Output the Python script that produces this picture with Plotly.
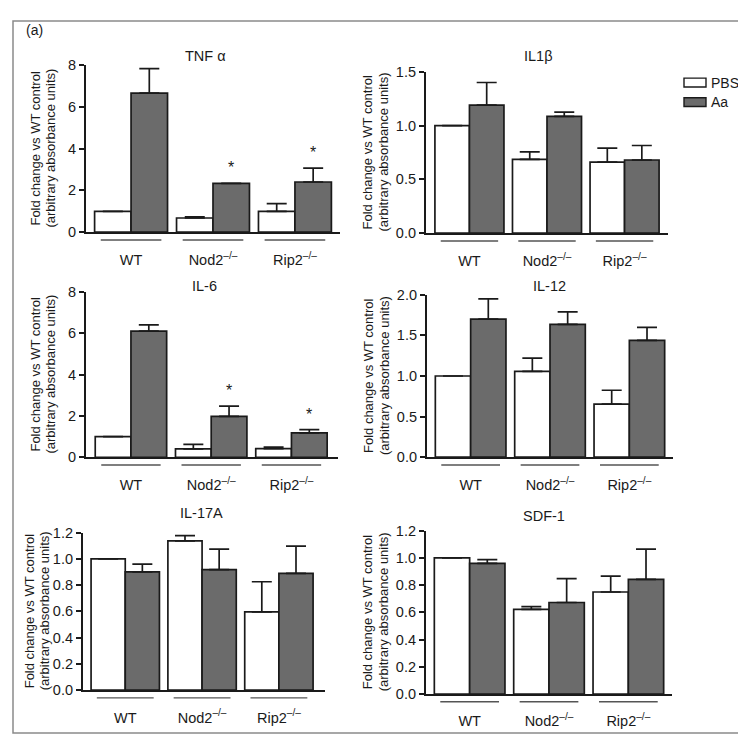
import plotly.graph_objects as go

W, H = 746, 738

# ---- data ----
groups = ["WT", "Nod2<sup>–/–</sup>", "Rip2<sup>–/–</sup>"]
cytokines = ["TNF α", "IL1β", "IL-6", "IL-12", "IL-17A", "SDF-1"]

tnf_pbs = [1.0, 0.68, 1.0]
tnf_pbs_err = [0.0, 0.05, 0.37]
tnf_aa = [6.65, 2.34, 2.40]
tnf_aa_err = [1.17, 0.0, 0.66]
tnf_star = [False, True, True]

il1b_pbs = [1.0, 0.685, 0.66]
il1b_pbs_err = [0.0, 0.07, 0.13]
il1b_aa = [1.19, 1.085, 0.68]
il1b_aa_err = [0.21, 0.04, 0.135]
il1b_star = [False, False, False]

il6_pbs = [1.0, 0.40, 0.42]
il6_pbs_err = [0.0, 0.22, 0.07]
il6_aa = [6.1, 1.98, 1.18]
il6_aa_err = [0.3, 0.49, 0.16]
il6_star = [False, True, True]

il12_pbs = [1.0, 1.056, 0.655]
il12_pbs_err = [0.0, 0.165, 0.17]
il12_aa = [1.70, 1.635, 1.44]
il12_aa_err = [0.25, 0.155, 0.16]
il12_star = [False, False, False]

il17_pbs = [1.0, 1.136, 0.595]
il17_pbs_err = [0.0, 0.04, 0.23]
il17_aa = [0.90, 0.917, 0.889]
il17_aa_err = [0.06, 0.157, 0.207]
il17_star = [False, False, False]

sdf_pbs = [1.0, 0.622, 0.749]
sdf_pbs_err = [0.0, 0.02, 0.117]
sdf_aa = [0.96, 0.672, 0.842]
sdf_aa_err = [0.027, 0.175, 0.222]
sdf_star = [False, False, False]

y_max = [8, 1.5, 8, 2.0, 1.2, 1.2]
y_dtick = [2, 0.5, 2, 0.5, 0.2, 0.2]
y_fmt = ["d", ".1f", "d", ".1f", ".1f", ".1f"]

panels = [
    (tnf_pbs, tnf_pbs_err, tnf_aa, tnf_aa_err, tnf_star),
    (il1b_pbs, il1b_pbs_err, il1b_aa, il1b_aa_err, il1b_star),
    (il6_pbs, il6_pbs_err, il6_aa, il6_aa_err, il6_star),
    (il12_pbs, il12_pbs_err, il12_aa, il12_aa_err, il12_star),
    (il17_pbs, il17_pbs_err, il17_aa, il17_aa_err, il17_star),
    (sdf_pbs, sdf_pbs_err, sdf_aa, sdf_aa_err, sdf_star),
]

# ---- panel geometry in pixels: axis left/right, top/bottom, title position,
#      x range, offsets of the two y-title lines from the axis ----
geom = [
    dict(x0=78, x1=332, yt=50, yb=221, tx=197, ty=41, xr=[-0.55, 2.55], yo=(50, 35)),
    dict(x0=418, x1=660, yt=57, yb=222, tx=530, ty=41, xr=[-0.56, 2.56], yo=(59, 43)),
    dict(x0=78, x1=330, yt=282, yb=451, tx=196, ty=276, xr=[-0.56, 2.58], yo=(50, 35)),
    dict(x0=419, x1=665, yt=285, yb=451, tx=541, ty=276, xr=[-0.55, 2.55], yo=(59, 43)),
    dict(x0=75, x1=317, yt=528, yb=689, tx=193, ty=508, xr=[-0.55, 2.6], yo=(54, 39)),
    dict(x0=418, x1=664, yt=526, yb=693, tx=536, ty=511, xr=[-0.55, 2.55], yo=(59, 43)),
]

BARGAP = 0.11
FONT = "Arial, Liberation Sans, Helvetica, sans-serif"
INK = "#1a1a1a"
GREY = "#6b6b6b"

fig = go.Figure()
layout = {}
annotations = []
shapes = []

for i, ((pbs, pbs_err, aa, aa_err, star), g) in enumerate(zip(panels, geom)):
    n = i + 1
    xa, ya = f"x{n}", f"y{n}"
    xs = list(range(len(groups)))

    fig.add_trace(go.Bar(
        x=xs, y=pbs, xaxis=xa, yaxis=ya, name="PBS", offsetgroup="pbs",
        marker=dict(color="white", line=dict(color=INK, width=1.7)),
        error_y=dict(type="data", symmetric=False, array=pbs_err, arrayminus=[0] * 3,
                     color=INK, thickness=1.7, width=10),
        showlegend=False,
    ))
    fig.add_trace(go.Bar(
        x=xs, y=aa, xaxis=xa, yaxis=ya, name="Aa", offsetgroup="aa",
        marker=dict(color=GREY, line=dict(color=INK, width=1.7)),
        error_y=dict(type="data", symmetric=False, array=aa_err, arrayminus=[0] * 3,
                     color=INK, thickness=1.7, width=10),
        showlegend=False,
    ))

    suffix = "" if n == 1 else str(n)
    layout[f"xaxis{suffix}"] = dict(
        domain=[g["x0"] / W, g["x1"] / W], range=g["xr"], anchor=ya,
        showline=True, linecolor=INK, linewidth=2.2, showgrid=False, zeroline=False,
        tickvals=xs, ticktext=groups, ticks="outside", ticklen=13,
        tickcolor="rgba(0,0,0,0)", tickfont=dict(size=14.5, color=INK),
    )
    layout[f"yaxis{suffix}"] = dict(
        domain=[1 - g["yb"] / H, 1 - g["yt"] / H], range=[0, y_max[i]], anchor=xa,
        showline=True, linecolor=INK, linewidth=2.2, showgrid=False, zeroline=False,
        dtick=y_dtick[i], tickformat=y_fmt[i], ticks="outside", ticklen=5,
        tickwidth=1.8, tickcolor=INK, tickfont=dict(size=14.5, color=INK),
    )

    # panel title
    annotations.append(dict(
        text=cytokines[i], x=g["tx"] / W, y=1 - g["ty"] / H, xref="paper", yref="paper",
        showarrow=False, font=dict(size=14.5, color=INK), xanchor="center", yanchor="middle",
    ))
    # y-axis title (two lines)
    ymid = 1 - (g["yt"] + g["yb"]) / 2 / H
    for txt, dx in zip(["Fold change vs WT control", "(arbitrary absorbance units)"], g["yo"]):
        annotations.append(dict(
            text=txt, x=(g["x0"] - dx) / W, y=ymid, xref="paper", yref="paper",
            showarrow=False, textangle=-90, font=dict(size=13, color=INK),
            xanchor="center", yanchor="middle",
        ))
    # group underlines
    for k in xs:
        shapes.append(dict(
            type="line", xref=xa, yref="paper", x0=k - 0.37, x1=k + 0.37,
            y0=1 - (g["yb"] + 8) / H, y1=1 - (g["yb"] + 8) / H,
            line=dict(color="#555555", width=1.4),
        ))
    # significance stars over Aa bars
    off = (1 - BARGAP) / 4
    for k in xs:
        if star[k]:
            annotations.append(dict(
                text="*", x=k + off, y=aa[k] + aa_err[k] + 0.03 * y_max[i],
                xref=xa, yref=ya, showarrow=False, yanchor="bottom",
                font=dict(size=16, color=INK),
            ))

# legend drawn by hand, Prism style
for j, (lab, col) in enumerate([("PBS", "white"), ("Aa", GREY)]):
    yc = 68 + 20 * j
    shapes.append(dict(
        type="rect", xref="paper", yref="paper",
        x0=676 / W, x1=698 / W, y0=1 - (yc + 4.5) / H, y1=1 - (yc - 4.5) / H,
        fillcolor=col, line=dict(color=INK, width=1.4),
    ))
    annotations.append(dict(
        text=lab, x=701 / W, y=1 - yc / H, xref="paper", yref="paper",
        showarrow=False, xanchor="left", yanchor="middle", font=dict(size=14, color=INK),
    ))

# panel label and outer frame
annotations.append(dict(
    text="(a)", x=16 / W, y=1 - 14 / H, xref="paper", yref="paper", showarrow=False,
    xanchor="left", yanchor="middle", font=dict(size=14, color=INK),
))
shapes.append(dict(
    type="rect", xref="paper", yref="paper", x0=5 / W, x1=740 / W, y0=1 - 733 / H, y1=1 - 5 / H,
    line=dict(color="#8a8a8a", width=1.5), fillcolor="rgba(0,0,0,0)", layer="below",
))

fig.update_layout(
    width=W, height=H, margin=dict(l=0, r=0, t=0, b=0),
    paper_bgcolor="white", plot_bgcolor="white",
    barmode="group", bargap=BARGAP, bargroupgap=0,
    font=dict(family=FONT, color=INK),
    annotations=annotations, shapes=shapes, showlegend=False,
    **layout,
)

fig.write_html("out.html", config={"displayModeBar": False})
